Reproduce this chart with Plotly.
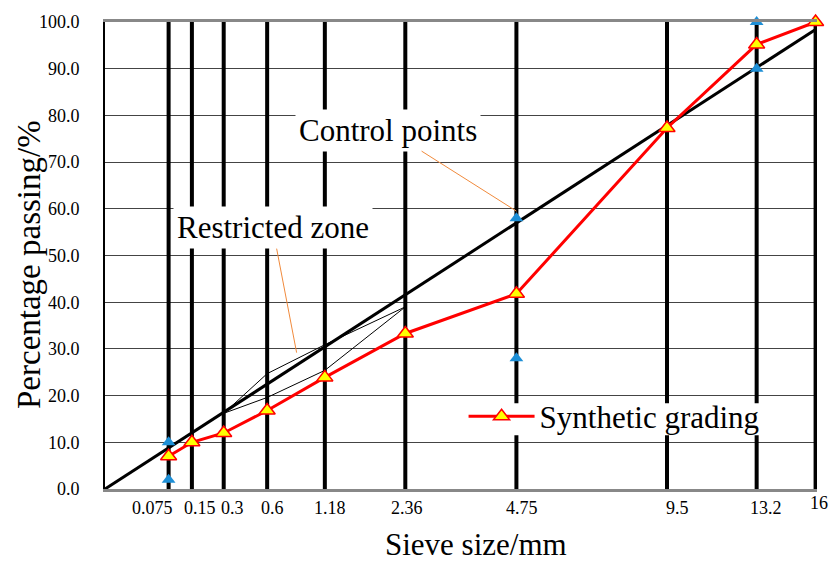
import numpy as np
import plotly.graph_objects as go

# ---------------- data ----------------
sieve_sizes = [0.075, 0.15, 0.3, 0.6, 1.18, 2.36, 4.75, 9.5, 13.2, 16]
sieve_labels = ["0.075", "0.15", "0.3", "0.6", "1.18", "2.36", "4.75", "9.5", "13.2", "16"]
synthetic_grading = [7.0, 10.0, 12.0, 16.8, 23.9, 33.3, 41.8, 77.3, 95.2, 100.0]
control_sieves = [0.075, 0.075, 4.75, 4.75, 13.2, 13.2]
control_values = [2, 10, 28, 58, 90, 100]
restricted_sieves = [0.3, 0.6, 1.18, 2.36]
restricted_upper = [16.2, 24.7, 30.9, 39.0]
restricted_lower = [16.2, 19.6, 25.4, 39.0]
max_density_sieves = [0, 16]
max_density_values = [0, 98.4]
y_ticks = [0, 10, 20, 30, 40, 50, 60, 70, 80, 90, 100]

POWER = 0.45


def pw(v):
    return list(np.power(np.asarray(v, dtype=float), POWER))


FONT = "Liberation Serif, Times New Roman, serif"

fig = go.Figure()

# vertical sieve lines
vx, vy = [], []
for s in pw(sieve_sizes):
    vx += [s, s, None]
    vy += [y_ticks[0], y_ticks[-1], None]
fig.add_trace(go.Scatter(x=vx, y=vy, mode="lines", line=dict(color="black", width=4),
                         showlegend=False, hoverinfo="skip"))

# restricted zone polygon
rz_x = pw(restricted_sieves) + pw(restricted_sieves[::-1])
rz_y = restricted_upper + restricted_lower[::-1]
fig.add_trace(go.Scatter(x=rz_x, y=rz_y, mode="lines", line=dict(color="black", width=1),
                         showlegend=False, hoverinfo="skip"))

# maximum density line
fig.add_trace(go.Scatter(x=pw(max_density_sieves), y=max_density_values, mode="lines",
                         line=dict(color="black", width=3), showlegend=False))

# synthetic grading
fig.add_trace(go.Scatter(x=pw(sieve_sizes), y=synthetic_grading, mode="lines+markers",
                         name="Synthetic grading",
                         line=dict(color="#FF0000", width=3),
                         marker=dict(symbol="triangle-up", size=14, color="#FFFF00",
                                     line=dict(color="#FF0000", width=1.5)),
                         cliponaxis=False))

# control points
fig.add_trace(go.Scatter(x=pw(control_sieves), y=control_values, mode="markers",
                         marker=dict(symbol="triangle-up", size=12, color="#1E8FD6"),
                         showlegend=False, cliponaxis=False))

annotations = []
# x tick labels
label_shift = [-16, 8, 9, 5, 5, 2, 6, 10, 9, 3]
label_yshift = [-19, -19, -19, -19, -19, -19, -19, -19, -19, -14]
for s, lab, dx, dy in zip(pw(sieve_sizes), sieve_labels, label_shift, label_yshift):
    annotations.append(dict(x=s, y=0, xref="x", yref="paper", text=lab, showarrow=False,
                            xshift=dx, yshift=dy, xanchor="center", yanchor="middle",
                            font=dict(family=FONT, size=18, color="black")))

# axis titles
annotations.append(dict(x=0.521, y=-0.119, xref="paper", yref="paper", text="Sieve size/mm",
                        showarrow=False, xanchor="center", yanchor="middle",
                        font=dict(family=FONT, size=31, color="black")))
annotations.append(dict(x=-0.1067, y=0.4797, xref="paper", yref="paper",
                        text="Percentage passing/%", textangle=-90,
                        showarrow=False, xanchor="center", yanchor="middle",
                        font=dict(family=FONT, size=33, color="black")))

# callouts
annotations.append(dict(x=pw([4.75])[0], y=59.5, xref="x", yref="y", text="Control points",
                        showarrow=True, arrowhead=0, arrowwidth=1, arrowcolor="#F08A3C",
                        ax=-128, ay=-81, bgcolor="white", borderpad=3,
                        font=dict(family=FONT, size=31, color="black")))
annotations.append(dict(x=0.939, y=29.2, xref="x", yref="y", text="Restricted zone",
                        showarrow=True, arrowhead=0, arrowwidth=1, arrowcolor="#F08A3C",
                        ax=-24, ay=-125, bgcolor="white", borderpad=3,
                        font=dict(family=FONT, size=31, color="black")))

# white patch behind the legend (covers the sieve lines there)
shapes = [dict(type="rect", xref="paper", yref="paper", x0=0.5056, x1=0.934,
               y0=0.115, y1=0.1834, fillcolor="white", line=dict(width=0), layer="above")]

fig.update_layout(
    width=830, height=561,
    margin=dict(l=105, r=13, t=20, b=72),
    paper_bgcolor="white", plot_bgcolor="white",
    font=dict(family=FONT, color="black"),
    annotations=annotations,
    shapes=shapes,
    legend=dict(x=0.5036, y=0.155, xanchor="left", yanchor="middle",
                bgcolor="rgba(0,0,0,0)", font=dict(family=FONT, size=31, color="black"),
                itemwidth=66, borderwidth=0),
    xaxis=dict(range=[0, 16 ** POWER * 1.002], showgrid=False, zeroline=False,
               showticklabels=False, ticks="", showline=True, linecolor="#888888",
               linewidth=3, mirror=True),
    yaxis=dict(range=[0, 100], tickvals=y_ticks, tickformat=".1f", showgrid=True,
               gridcolor="#444444", gridwidth=1.3, zeroline=False, showline=True,
               linecolor="black", linewidth=2, ticks="", ticklabelstandoff=20,
               tickfont=dict(family=FONT, size=18, color="black")),
)

# remove the default page margin so the 830x561 figure fills the window exactly
fig.write_html("out.html",
               config={"displayModeBar": False},
               post_script="document.body.style.margin='0px';"
                           "document.body.style.overflow='hidden';")
